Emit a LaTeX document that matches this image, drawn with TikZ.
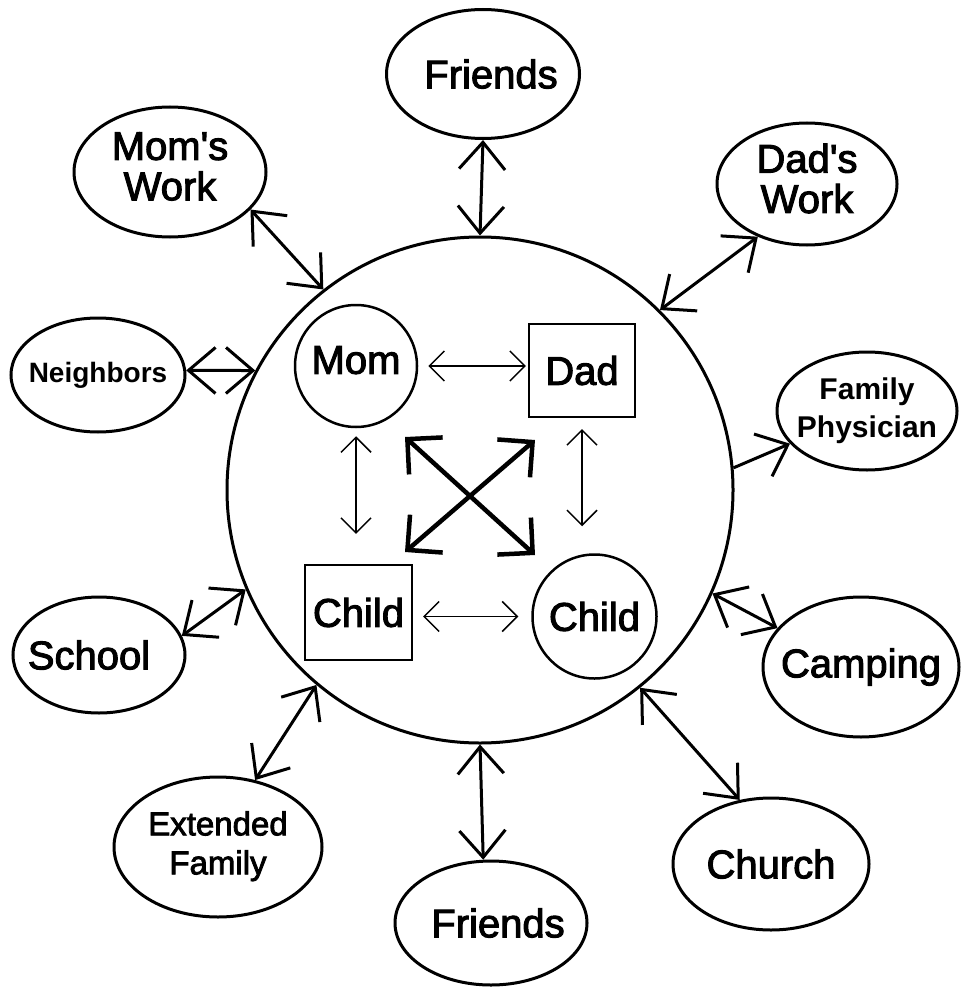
\documentclass[tikz,border=0pt]{standalone}
\usepackage{fontspec}
\setmainfont{Liberation Sans}
\newfontfamily\heavyfont{Liberation Sans}[FakeBold=2.5]
\usetikzlibrary{arrows.meta,shapes.geometric}
\newcommand{\twoln}[2]{\makebox[0pt]{\begin{tabular}{@{}c@{}}#1\\#2\end{tabular}}}
\tikzset{
  obarb/.tip={Straight Barb[length=27pt,width=46pt]},
  ibarb/.tip={Straight Barb[length=15pt,width=30pt]},
  xbarb/.tip={Straight Barb[length=25pt,width=50pt]},
  outer/.style={draw, ellipse, line width=3pt, inner sep=0pt},
  ring/.style={draw, circle, line width=2.5pt, inner sep=0pt},
  box/.style={draw, rectangle, line width=2.2pt, inner sep=0pt},
  link/.style={line width=3pt, obarb-obarb},
  onelink/.style={line width=3pt, -obarb},
  thinlink/.style={line width=1.5pt, ibarb-ibarb},
  cross/.style={line width=4.5pt, xbarb-xbarb},
  bigtxt/.style={font=\heavyfont\fontsize{40pt}{38pt}\selectfont},
  midtxt/.style={font=\heavyfont\fontsize{33pt}{39pt}\selectfont},
  smalltxt/.style={font=\bfseries\fontsize{28pt}{38pt}\selectfont},
  phystxt/.style={font=\bfseries\fontsize{30pt}{38pt}\selectfont},
}
\begin{document}
\begin{tikzpicture}[x=1pt,y=-1pt]
\useasboundingbox (0,0) rectangle (961,987);
\fill[white] (0,0) rectangle (961,987);

% family circle and members
\node[ring, line width=3pt, minimum size=506pt] (B) at (480,490) {};
\node[ring, minimum size=122pt, bigtxt, text depth=12pt] (M) at (356,366) {Mom};
\node[box, minimum width=106pt, minimum height=93pt, bigtxt] (D) at (582,370.5) {Dad};
\node[box, minimum width=107pt, minimum height=95pt, bigtxt] (CS) at (358.5,612.5) {Child};
\node[ring, minimum size=124pt, bigtxt] (CC) at (594.5,616.5) {Child};

% outer systems
\node[outer, minimum width=193pt, minimum height=129pt, bigtxt] (FT) at (483,74) {\makebox[0pt]{\hspace{16pt}Friends}};
\node[outer, minimum width=192pt, minimum height=130pt, bigtxt] (MW) at (170,172) {\twoln{Mom\textquotesingle s}{Work}};
\node[outer, minimum width=180pt, minimum height=122pt, bigtxt] (DW) at (807,184) {\twoln{Dad\textquotesingle s}{Work}};
\node[outer, minimum width=174pt, minimum height=114pt, smalltxt] (N) at (98,375) {\makebox[0pt]{Neighbors}};
\node[outer, minimum width=180pt, minimum height=118pt, phystxt] (FP) at (867,411) {\twoln{Family}{Physician}};
\node[outer, minimum width=172pt, minimum height=116pt, bigtxt] (S) at (99,655) {\makebox[0pt]{School\hspace{20pt}}};
\node[outer, minimum width=196pt, minimum height=140pt, bigtxt] (CA) at (861,667) {\makebox[0pt]{Camping}};
\node[outer, minimum width=208pt, minimum height=140pt, midtxt] (EF) at (218,847) {\twoln{Extended}{Family}};
\node[outer, minimum width=196pt, minimum height=132pt, bigtxt] (CH) at (771,864) {\makebox[0pt]{Church}};
\node[outer, minimum width=192pt, minimum height=124pt, bigtxt] (FB) at (491,923) {\makebox[0pt]{\hspace{14pt}Friends}};

% outer links
\draw[link] (FT.south) -- (B.north);
\draw[link] (MW.-25) -- (B.128);
\draw[link] (DW.227) -- (B.45);
\draw[link] (N.3) -- (B.152);
\draw[onelink] (B.5) -- (FP.203);
\draw[link] (B.-24) -- (CA.155);
\draw[link] (B.-51) -- (CH.116);
\draw[link] (B.south) -- (FB.97);
\draw[link] (B.230) -- (EF.61);
\draw[link] (B.203) -- (S.13);

% inner links
\draw[thinlink, shorten <=10pt, shorten >=2pt] (M.east) -- (M.east -| D.west);
\draw[thinlink, shorten <=10pt, shorten >=13pt] (CS.east |- CC.west) -- (CC.west);
\draw[thinlink, shorten <=8pt, shorten >=30pt] (M.south) -- (M.south |- CS.north);
\draw[thinlink, shorten <=11pt, shorten >=27pt] (D.south) -- (D.south |- CC.north);

% central cross
\coordinate (xa) at (405,437);
\coordinate (xb) at (535,555);
\coordinate (xc) at (535,440);
\coordinate (xd) at (405,552);
\draw[cross] (xa) -- (xb);
\draw[cross] (xc) -- (xd);
\end{tikzpicture}
\end{document}
